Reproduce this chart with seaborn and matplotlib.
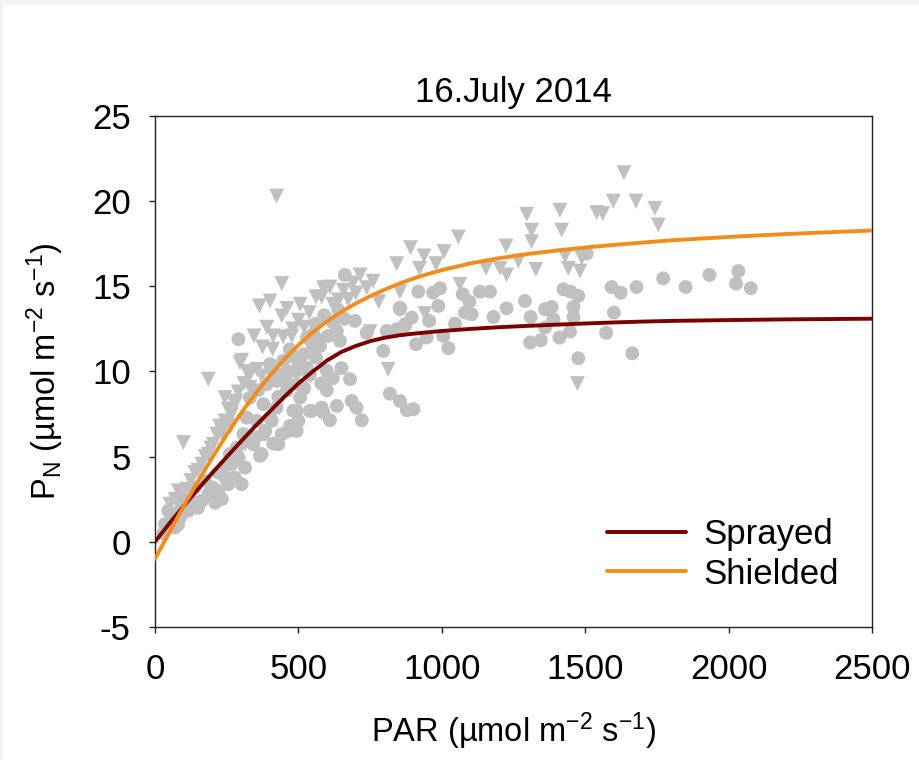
import numpy as np
import pandas as pd
import matplotlib
matplotlib.use("Agg")
import matplotlib.pyplot as plt
import matplotlib.patches as mpatches
import seaborn as sns

# ---- data ----
sprayed_par = [1592,1624,1679,1772,1850,1933,2034,2026,2077,1600,1573,1664,
    1505,994,970,918,1073,1096,1133,1168,854,988,895,872,956,1081,1104,1180,1226,1290,1360,1383,
    1424,1449,1476,1459,1459,1310,1389,1046,910,947,1005,1023,1308,1345,1410,1447,1360,1476,854,878,901,
    291,662,697,634,645,604,561,599,477,401,680,599,517,506,540,587,634,610,686,703,721,494,471,442,494,
    412,378,372,819,796,738,808,843,872,854,
    552,517,529,494,447,424,459,494,389,331,320,355,401,424,378,308,343,285,261,447,412,
    46,58,70,35,87,116,128,163,186,233,221,256,302,279,244,221,267,291,314,366,349,384,430,407,465,500,
    546,581,482,139,174,93,
    560,590,620,530,470,640,660,575,500,540,580,620,650,
    30,55,80,100,150,200,240,210,360,430,455,470,520]
sprayed_pn = [14.96,14.63,14.96,15.47,14.96,15.67,15.9,15.16,14.89,13.46,12.27,11.07,
    16.92,14.89,14.63,14.69,14.54,14.1,14.69,14.69,13.66,13.85,13.16,12.78,12.97,13.46,13.36,13.2,13.71,14.14,13.66,13.79,
    14.83,14.69,14.44,13.79,13.2,13.2,13.07,12.81,11.6,11.99,12.09,11.37,11.7,11.83,11.99,12.34,12.58,10.78,8.27,7.73,7.79,
    11.9,15.67,12.97,12.38,11.8,12.09,10.82,10.04,10.92,10.43,9.55,8.9,9.06,8.47,7.69,7.59,7.98,7.14,8.27,7.88,7.14,7.69,6.81,6.32,6.51,
    5.77,6.32,5.15,8.7,11.21,12.28,12.38,12.48,12.68,13.75,
    12.19,11.01,10.23,10.04,9.84,9.45,8.86,9.25,9.25,8.47,7.29,7.1,7.29,7.88,8.08,6.32,5.73,5.53,5.15,10.62,10.04,
    1.82,1.43,0.84,1.04,1.43,1.82,2.41,2.41,2.8,2.51,2.99,3.39,3.39,3.77,3.77,4.07,4.56,4.95,4.36,5.05,6.12,6.51,5.73,7.1,6.51,7.1,
    7.69,7.88,7.69,3.19,3.58,2.01,
    12.8,13.3,12.9,12.0,11.3,13.6,13.1,11.5,10.6,9.8,9.3,9.6,10.2,
    0.5,0.9,1.0,2.5,2.0,3.2,4.3,2.3,8.9,8.5,9.4,10.0,9.0]

shielded_par = [1635,1598,1677,1561,1743,1755,1296,1412,1540,1058,1313,1418,1313,1224,891,938,1008,980,922,1154,
    1203,1226,1328,1430,1441,1482,1488,1063,941,1473,1267,
    424,442,364,401,442,506,538,561,610,620,581,657,674,715,738,500,345,375,412,447,477,410,302,355,546,575,
    750,813,843,854,587,282,186,244,296,331,372,331,
    99,81,52,110,139,163,186,203,215,233,244,267,279,314,
    60,70,95,125,150,175,195,225,255,290,310,265,
    460,520,640,690,700,760,780,550,480,320,390]
shielded_pn = [21.67,20.0,20.0,19.27,19.58,18.6,19.23,19.47,19.33,17.9,18.3,18.3,17.62,17.37,17.27,16.78,17.04,16.33,16.06,16.06,
    16.06,15.67,16.0,16.78,16.06,15.9,16.68,15.12,13.4,9.29,16.49,
    20.3,15.16,13.85,14.14,13.26,13.95,13.46,14.38,14.96,13.95,14.38,14.77,14.24,15.67,14.92,13.01,12.09,11.44,12.09,12.03,12.09,11.31,10.66,10.13,11.25,11.8,
    12.34,10.13,16.33,14.69,14.92,8.27,9.55,8.47,10.52,9.84,9.74,9.06,
    5.83,2.99,2.21,3.09,4.07,4.56,5.15,5.73,6.32,6.41,7.1,7.49,8.08,5.73,
    1.6,2.5,2.6,3.6,4.2,5.0,5.5,6.8,7.8,8.8,9.3,6.8,
    13.7,12.6,14.2,15.2,14.6,15.3,14.1,11.4,12.5,10.0,12.6]

curve_par = [0, 50, 100, 150, 200, 250, 300, 350, 400, 450, 500, 550, 600, 650, 700, 750, 800, 850,
             900, 950, 1000, 1100, 1200, 1300, 1400, 1500, 1600, 1700, 1800, 2000, 2200, 2500]
sprayed_fit = [0.0, 1.08, 2.1, 3.1, 4.05, 4.98, 5.9, 6.8, 7.65, 8.5, 9.3, 10.0, 10.65, 11.15, 11.5, 11.78, 11.98, 12.12,
               12.22, 12.3, 12.38, 12.5, 12.6, 12.68, 12.75, 12.82, 12.88, 12.93, 12.97, 13.02, 13.06, 13.1]
shielded_fit = [-1.0, 0.55, 2.1, 3.55, 4.95, 6.3, 7.55, 8.7, 9.75, 10.7, 11.55, 12.3, 12.95, 13.5, 14.0, 14.42, 14.8, 15.15,
                15.45, 15.72, 15.95, 16.35, 16.65, 16.9, 17.1, 17.28, 17.43, 17.57, 17.7, 17.9, 18.07, 18.28]

series_names = ["Sprayed", "Shielded"]
line_colors = ["#7a0000", "#f28c1c"]
point_color = "#c0c0c0"

# ---- figure ----
sns.set_style("ticks")
plt.rcParams["font.family"] = ["Liberation Sans", "DejaVu Sans"]
plt.rcParams["mathtext.fontset"] = "custom"
plt.rcParams["mathtext.rm"] = "Liberation Sans"
plt.rcParams["mathtext.it"] = "Liberation Sans"
plt.rcParams["axes.unicode_minus"] = False
plt.rcParams["text.color"] = "black"
plt.rcParams["axes.labelcolor"] = "black"

fig = plt.figure(figsize=(9.19, 7.6), dpi=100, facecolor="#f2f2f2")
fig.patches.append(mpatches.Rectangle((3 / 919, 0), 1, 1 - 5 / 760, transform=fig.transFigure,
                                      facecolor="white", edgecolor="none", zorder=-10))
ax = fig.add_axes([155 / 919, 1 - 627 / 760, (872 - 155) / 919, (627 - 116) / 760])
ax.set_facecolor("white")

pts_s = pd.DataFrame({"PAR": sprayed_par, "PN": sprayed_pn})
pts_h = pd.DataFrame({"PAR": shielded_par, "PN": shielded_pn})
sns.scatterplot(data=pts_h, x="PAR", y="PN", marker="v", s=115, color=point_color,
                edgecolor="none", linewidth=0, ax=ax, zorder=2, legend=False)
sns.scatterplot(data=pts_s, x="PAR", y="PN", marker="o", s=100, color=point_color,
                edgecolor="none", linewidth=0, ax=ax, zorder=2, legend=False)

curves = pd.DataFrame({
    "PAR": curve_par * 2,
    "PN": sprayed_fit + shielded_fit,
    "group": [series_names[0]] * len(curve_par) + [series_names[1]] * len(curve_par),
})
sns.lineplot(data=curves, x="PAR", y="PN", hue="group", hue_order=series_names,
             palette=line_colors, linewidth=2.8, ax=ax, zorder=3)

ax.set_xlim(0, 2500)
ax.set_ylim(-5, 25)
ax.set_xticks([0, 500, 1000, 1500, 2000, 2500])
ax.set_yticks([-5, 0, 5, 10, 15, 20, 25])
for sp in ax.spines.values():
    sp.set_color("#222222")
    sp.set_linewidth(1.0)
ax.tick_params(axis="both", direction="out", length=4.5, width=1.0, labelsize=25,
               colors="#222222", labelcolor="black")
ax.tick_params(axis="x", pad=14)
ax.tick_params(axis="y", pad=13)

ax.set_xlabel("PAR (µmol m$^{\\mathregular{-2}}$ s$^{\\mathregular{-1}}$)", fontsize=23.5, labelpad=18)
ax.set_ylabel("P$_{\\mathregular{N}}$ (µmol m$^{\\mathregular{-2}}$ s$^{\\mathregular{-1}}$)", fontsize=23.5, labelpad=19)
ax.set_title("16.July 2014", fontsize=25, pad=10)

handles, labels = ax.get_legend_handles_labels()
ax.legend(handles, labels, loc="lower right", bbox_to_anchor=(0.998, 0.01), frameon=False,
          fontsize=25, handlelength=2.3, handletextpad=0.5, labelspacing=0.2)

fig.savefig("out.png", dpi=100, facecolor=fig.get_facecolor())
